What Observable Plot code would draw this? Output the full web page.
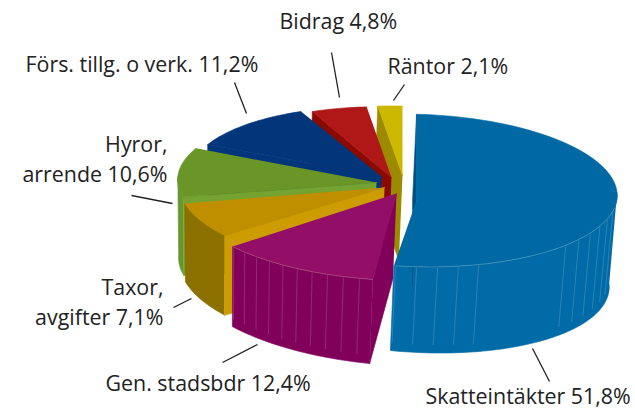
<!DOCTYPE html>
<html>
<head>
<meta charset="utf-8">
<script src="https://cdn.jsdelivr.net/npm/d3@7"></script>
<script src="https://cdn.jsdelivr.net/npm/@observablehq/plot@0.6"></script>
<style>html,body{margin:0;padding:0;background:#fff}svg{display:block}</style>
</head>
<body>
<div id="chart"></div>
<script>
// Data
const categories = ["Skatteintäkter","Gen. stadsbdr","Taxor, avgifter","Hyror, arrende","Förs. tillg. o verk.","Bidrag","Räntor"];
const shares = [51.8,12.4,7.1,10.6,11.2,4.8,2.1];
// Colours per slice
const topColors  = ["#0069a3","#930e66","#bf8f00","#6a9527","#03357a","#b01717","#cdb800"];
const rimColors  = ["#006ba6","#80005a","#8c7000","#66962c","#03357a","#8b0a00","#9c8a00"];
const wallColors = ["#00507f","#80005a","#cc9c00","#74a332","#03357a","#8b0a00","#9c8a00"];
// Exploded layout
const explodeX = [24,4,-8,-16,-11,-1,10];
const explodeY = [4,14,4,-2,-7,-8,-9];
const apexShift = [10,-7,-3,-2,-3,-1,-2];
const facetStep = [6,4.5,0,0,0,0,0];
const paintOrder = [6,5,4,3,2,1,0];
// Labels
const labelLines = [
  {t:"Skatteintäkter 51,8%",x:425,y:397,a:"start"},
  {t:"Gen. stadsbdr 12,4%",x:105,y:384,a:"start"},
  {t:"Taxor,",x:163,y:288,a:"end"},
  {t:"avgifter 7,1%",x:163,y:318,a:"end"},
  {t:"Hyror,",x:167,y:145,a:"end"},
  {t:"arrende 10,6%",x:167,y:175,a:"end"},
  {t:"Förs. tillg. o verk. 11,2%",x:25,y:65,a:"start"},
  {t:"Bidrag 4,8%",x:279,y:22,a:"start"},
  {t:"Räntor 2,1%",x:387,y:67,a:"start"}
];
const leaders = [
  [532,348,549,381],[257,344,222,362],[191,298,173,307],[131,195,172,203],
  [234,82,246,113],[331,52,339,97],[404,84,393,100]
];

// Projection of the tilted disc
const W = 635, H = 410, CX = 392, CY = 186, RX = 200, RY = 76, TILT = 0.025;
const rad = d => d * Math.PI / 180;
const total = d3.sum(shares);
const cum = d3.cumsum(shares);
const slices = shares.map((v,i) => {
  const a0 = (cum[i]-v)/total*360, a1 = cum[i]/total*360;
  const s = 1 - 0.06*Math.cos(rad((a0+a1)/2));
  return {i, a0, a1, s, cx: CX+explodeX[i], cy: CY+explodeY[i]};
});
const rimPt = (sl,a) => {
  const dx = RX*sl.s*Math.sin(rad(a));
  const dy = -RY*sl.s*Math.cos(rad(a));
  return [sl.cx+dx, sl.cy+dy+TILT*dx];
};
const down = ([x,y]) => [x-0.02*(x-220), y+82+0.03*(x-300)];
const arc = (sl,from,to) => {
  const n = Math.max(2,Math.ceil(Math.abs(to-from)/2));
  return d3.range(n+1).map(k => rimPt(sl, from+(to-from)*k/n));
};
const face = (pts,color) => Plot.line(pts,{x:d=>d[0],y:d=>d[1],fill:color,stroke:color,strokeWidth:0.6,curve:"linear"});

const marks = [];
for (const idx of paintOrder) {
  const sl = slices[idx];
  const apex = [sl.cx, sl.cy+apexShift[idx]];
  const rim = arc(sl,sl.a0,sl.a1);
  // outer wall: only the part of the rim that faces the viewer
  const f0 = Math.max(sl.a0,88), f1 = Math.min(sl.a1,272);
  if (f1 > f0) {
    const front = arc(sl,f0,f1);
    marks.push(face([...front, ...front.map(down).reverse()], rimColors[idx]));
  }
  // facet stripes on the outer wall
  if (facetStep[idx]) {
    const angs = d3.range(sl.a1-0.5, sl.a0, -facetStep[idx]).filter(a => a>100 && !(idx===0 && a>134 && a<160));
    const segs = angs.map(a => { const p = rimPt(sl,a), q = down(p); return {x1:p[0],y1:p[1]+1,x2:q[0],y2:q[1]-8}; });
    marks.push(Plot.link(segs,{x1:"x1",y1:"y1",x2:"x2",y2:"y2",stroke:"#ffffff",strokeOpacity:0.16,strokeWidth:1}));
  }
  // radial start wall
  const rs = rimPt(sl,sl.a0);
  marks.push(face([apex,rs,down(rs),down(apex)], wallColors[idx]));
  // top
  marks.push(face([apex,...rim], topColors[idx]));
  // rim highlight
  if (idx<2) {
    const front = arc(sl,Math.max(sl.a0,100),sl.a1);
    marks.push(Plot.line(front,{x:d=>d[0],y:d=>d[1],stroke:"#ffffff",strokeOpacity:0.25,strokeWidth:0.8}));
  }
}
marks.push(Plot.link(leaders,{x1:d=>d[0],y1:d=>d[1],x2:d=>d[2],y2:d=>d[3],stroke:"#222",strokeWidth:1.3}));
for (const anchor of ["start","end"]) {
  marks.push(Plot.text(labelLines.filter(d=>d.a===anchor),{x:"x",y:"y",text:"t",textAnchor:anchor,lineAnchor:"middle",fill:"#222",fontSize:21.4,fontFamily:"'Open Sans',sans-serif"}));
}

document.getElementById("chart").append(Plot.plot({
  width:W,height:H,margin:0,
  x:{domain:[0,W],range:[0,W],axis:null},
  y:{domain:[0,H],range:[0,H],axis:null},
  style:{background:"#fff"},
  marks
}));
</script>
</body>
</html>
